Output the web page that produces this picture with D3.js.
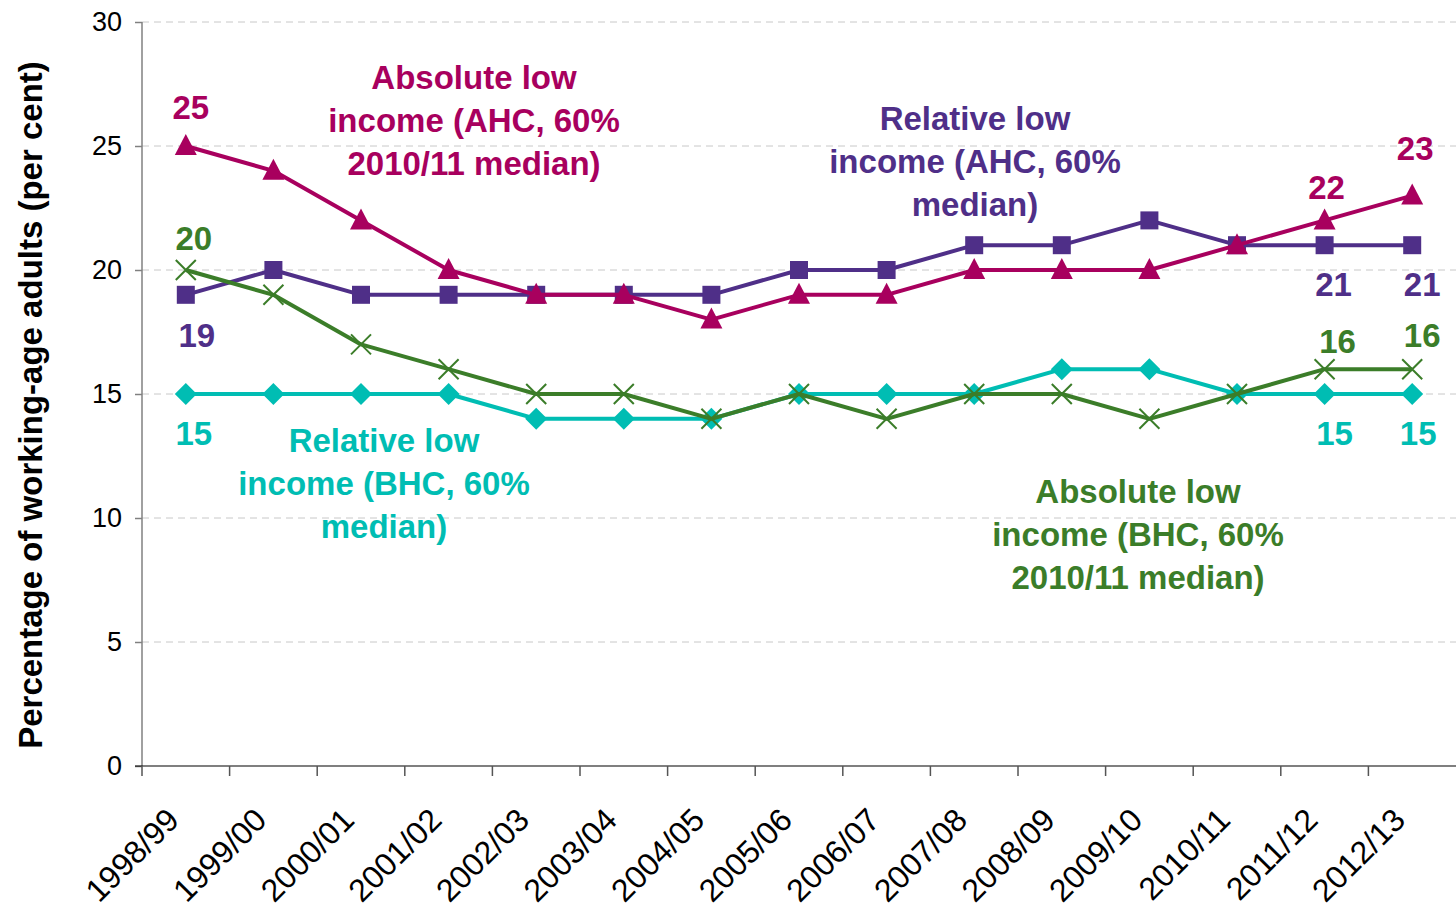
<!DOCTYPE html>
<html>
<head>
<meta charset="utf-8">
<script src="https://cdn.jsdelivr.net/npm/d3@7"></script>
<style>
  body { margin: 0; background: #fff; }
  text { font-family: "Liberation Sans", Arial, sans-serif; }
</style>
</head>
<body>
<script>
// data
var years = ["1998/99","1999/00","2000/01","2001/02","2002/03","2003/04","2004/05",
  "2005/06","2006/07","2007/08","2008/09","2009/10","2010/11","2011/12","2012/13"];
var absAHC = [25, 24, 22, 20, 19, 19, 18, 19, 19, 20, 20, 20, 21, 22, 23];
var relAHC = [19, 20, 19, 19, 19, 19, 19, 20, 20, 21, 21, 22, 21, 21, 21];
var absBHC = [20, 19, 17, 16, 15, 15, 14, 15, 14, 15, 15, 14, 15, 16, 16];
var relBHC = [15, 15, 15, 15, 14, 14, 14, 15, 15, 15, 16, 16, 15, 15, 15];
var yTicks = [0, 5, 10, 15, 20, 25, 30];

var width = 1456, height = 907;
var margin = {top: 22, right: 0, bottom: 141, left: 142};
var innerWidth = width - margin.left - margin.right;
var innerHeight = height - margin.top - margin.bottom;

var svg = d3.select("body").append("svg")
  .attr("width", width).attr("height", height);
var g = svg.append("g")
  .attr("transform", "translate(" + margin.left + "," + margin.top + ")");

//Scales
var x = d3.scaleBand().domain(years).range([0, innerWidth]);
var y = d3.scaleLinear().domain([0, 30]).range([innerHeight, 0]);
var cx = d => x(d) + x.bandwidth() / 2;

//Grid
g.selectAll(".grid").data(yTicks.filter(t => t > 0)).enter()
  .append("line")
    .attr("x1", 0).attr("x2", innerWidth)
    .attr("y1", d => y(d)).attr("y2", d => y(d))
    .attr("stroke", "#c8c8c8").attr("stroke-width", 1)
    .attr("stroke-dasharray", "7,5");

//Axes
var leftAxis = d3.axisLeft(y).tickValues(yTicks).tickSize(7).tickPadding(13);
var gy = g.append("g").call(leftAxis);
gy.select(".domain").attr("stroke", "#808080").attr("stroke-width", 1.5).attr("d", "M0," + innerHeight + "V0");
gy.selectAll(".tick line").attr("stroke", "#808080").attr("stroke-width", 1.5);
gy.selectAll("text").attr("font-size", 27).attr("fill", "#000");

// category boundaries as ticks, labels drawn separately
var bottomAxis = d3.axisBottom(x).tickValues([]).tickSizeOuter(0);
var gx = g.append("g").attr("transform", "translate(0," + innerHeight + ")").call(bottomAxis);
gx.select(".domain").attr("stroke", "#000").attr("stroke-width", 1.2)
  .attr("d", "M-7,0H" + innerWidth);
gx.selectAll(".bound").data(years).enter().append("line")
  .attr("x1", d => x(d)).attr("x2", d => x(d))
  .attr("y1", 0).attr("y2", 10)
  .attr("stroke", "#555").attr("stroke-width", 1.5);
gx.selectAll(".lbl").data(years).enter().append("text")
  .attr("text-anchor", "end")
  .attr("font-size", 32)
  .attr("fill", "#000")
  .attr("transform", d => "translate(" + (cx(d) - 5) + ",56) rotate(-45)")
  .text(d => d);

g.append("text")
  .attr("transform", "rotate(-90)")
  .attr("x", -(405 - margin.top))
  .attr("y", 42 - margin.left)
  .attr("text-anchor", "middle")
  .attr("font-size", 33)
  .attr("font-weight", "bold")
  .attr("fill", "#000")
  .text("Percentage of working-age adults (per cent)");

//Series
var series = [
  {name: "relBHC", vals: relBHC, color: "#00BDB3", marker: "diamond"},
  {name: "relAHC", vals: relAHC, color: "#4F2F88", marker: "square"},
  {name: "absBHC", vals: absBHC, color: "#3B7D29", marker: "cross"},
  {name: "absAHC", vals: absAHC, color: "#A8005E", marker: "triangle"}
];

var line = d3.line().x(d => cx(d.year)).y(d => y(d.v));

series.forEach(s => {
  var pts = s.vals.map((v, i) => ({year: years[i], v: v}));
  g.append("path")
    .datum(pts)
    .attr("fill", "none")
    .attr("stroke", s.color)
    .attr("stroke-width", 4)
    .attr("stroke-linejoin", "round")
    .attr("d", line);
  var m = g.selectAll(".m-" + s.name).data(pts).enter().append("g")
    .attr("transform", d => "translate(" + cx(d.year) + "," + y(d.v) + ")");
  if (s.marker == "diamond") {
    m.append("path").attr("d", "M0,-11L11,0L0,11L-11,0Z").attr("fill", s.color);
  } else if (s.marker == "square") {
    m.append("rect").attr("x", -9).attr("y", -9).attr("width", 18).attr("height", 18).attr("fill", s.color);
  } else if (s.marker == "triangle") {
    m.append("path").attr("d", "M0,-12L11,9L-11,9Z").attr("fill", s.color);
  } else {
    m.append("path").attr("d", "M-10,-10L10,10M-10,10L10,-10")
      .attr("stroke", s.color).attr("stroke-width", 2).attr("fill", "none");
  }
});

//Value labels
var valueLabels = [
  {s: absAHC, i: 0, dx: 5, dy: -39, color: "#A8005E"},
  {s: absAHC, i: 13, dx: 2, dy: -33, color: "#A8005E"},
  {s: absAHC, i: 14, dx: 3, dy: -47, color: "#A8005E"},
  {s: relAHC, i: 0, dx: 11, dy: 40, color: "#4F2F88"},
  {s: relAHC, i: 13, dx: 9, dy: 39, color: "#4F2F88"},
  {s: relAHC, i: 14, dx: 10, dy: 39, color: "#4F2F88"},
  {s: absBHC, i: 0, dx: 8, dy: -32, color: "#3B7D29"},
  {s: absBHC, i: 13, dx: 13, dy: -28, color: "#3B7D29"},
  {s: absBHC, i: 14, dx: 10, dy: -34, color: "#3B7D29"},
  {s: relBHC, i: 0, dx: 8, dy: 39, color: "#00BDB3"},
  {s: relBHC, i: 13, dx: 10, dy: 39, color: "#00BDB3"},
  {s: relBHC, i: 14, dx: 6, dy: 39, color: "#00BDB3"}
];
g.selectAll(".vl").data(valueLabels).enter().append("text")
  .attr("x", d => cx(years[d.i]) + d.dx)
  .attr("y", d => y(d.s[d.i]) + d.dy)
  .attr("dy", "0.36em")
  .attr("text-anchor", "middle")
  .attr("font-size", 33)
  .attr("font-weight", "bold")
  .attr("fill", d => d.color)
  .text(d => d.s[d.i]);

//Series names
var seriesNames = [
  {lines: ["Absolute low", "income (AHC, 60%", "2010/11 median)"], x: 474, y: 77, color: "#A8005E"},
  {lines: ["Relative low", "income (AHC, 60%", "median)"], x: 975, y: 118, color: "#4F2F88"},
  {lines: ["Relative low", "income (BHC, 60%", "median)"], x: 384, y: 440, color: "#00BDB3"},
  {lines: ["Absolute low", "income (BHC, 60%", "2010/11 median)"], x: 1138, y: 491, color: "#3B7D29"}
];
seriesNames.forEach(n => {
  var t = svg.append("text")
    .attr("text-anchor", "middle")
    .attr("font-size", 33)
    .attr("font-weight", "bold")
    .attr("fill", n.color);
  n.lines.forEach((l, i) => {
    t.append("tspan").attr("x", n.x).attr("y", n.y + i * 43).attr("dy", "0.36em").text(l);
  });
});
</script>
</body>
</html>
